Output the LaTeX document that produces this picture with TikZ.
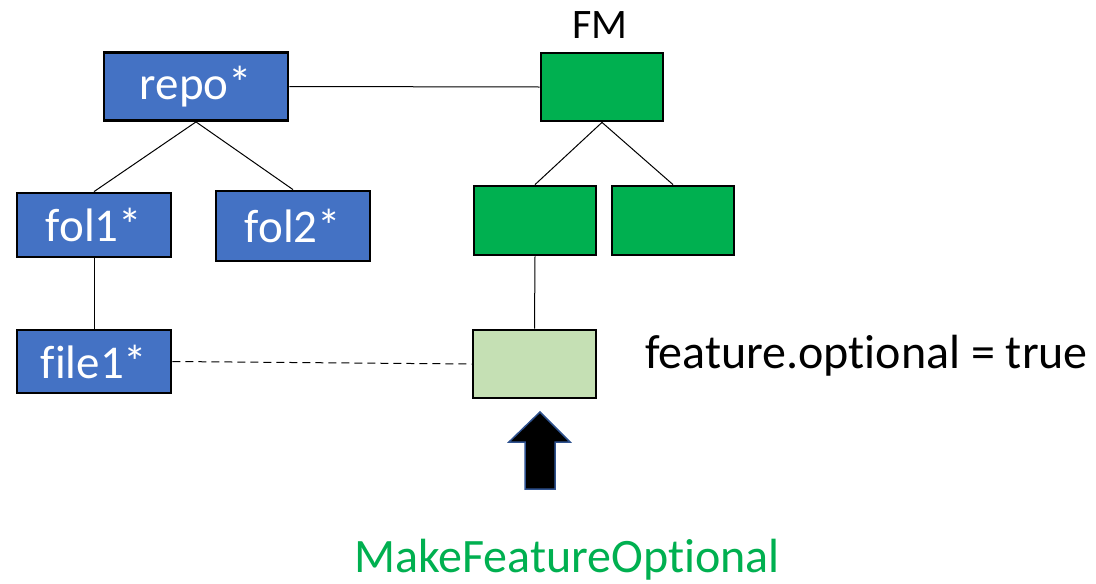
\documentclass[tikz,border=0pt]{standalone}
\usepackage{fontspec}
\setmainfont{Carlito}[Ligatures=NoCommon]
\definecolor{repoblue}{HTML}{4472C4}
\definecolor{fmgreen}{HTML}{00B050}
\definecolor{optgreen}{HTML}{C5E0B4}
\definecolor{arrowedge}{HTML}{2F528F}
\begin{document}
\begin{tikzpicture}[x=1pt,y=-1pt,
  box/.style={draw=black,line width=2.8pt,inner sep=0pt,font=\fontsize{47}{47}\selectfont},
  repobox/.style={box,fill=repoblue,text=white},
  fmbox/.style={box,fill=fmgreen},
  optbox/.style={box,fill=optgreen},
  link/.style={line width=1pt,black}]
\useasboundingbox[fill=white] (0,0) rectangle (1096,584);

% repository tree
\node[repobox,minimum width=184pt,minimum height=68pt] (repo) at (196,86.5) {repo*};
\node[repobox,minimum width=154pt,minimum height=64pt] (fol1) at (94,225) {fol1*};
\node[repobox,minimum width=154pt,minimum height=70pt] (fol2) at (293,226) {fol2*};
\node[repobox,minimum width=154pt,minimum height=63pt] (file1) at (94,361.5) {file1*};

% feature model
\node[fmbox,minimum width=122pt,minimum height=68pt] (fm) at (602,87) {};
\node[font=\fontsize{42}{42}\selectfont,anchor=base,inner sep=0pt] (fmlabel) at (600,38) {FM};
\node[fmbox,minimum width=122pt,minimum height=69pt] (g1) at (535,220.5) {};
\node[fmbox,minimum width=122pt,minimum height=69pt] (g2) at (673,220.5) {};
\node[optbox,minimum width=123pt,minimum height=68pt] (opt) at (534.5,364) {};

% connectors
\draw[link] (repo.east) -- (fm.west);
\draw[link] (repo.south) -- (fol1.north);
\draw[link] (repo.south) -- (fol2.north);
\draw[link] (fol1.south) -- (file1.north);
\draw[link] (fm.south) -- (g1.north);
\draw[link] (fm.south) -- (g2.north);
\draw[link] (g1.south) -- (opt.north);
\draw[link,dashed,dash pattern=on 8pt off 5pt] (file1.east) -- (opt.west);

% operation annotation
\node[font=\fontsize{48}{48}\selectfont,anchor=base west,inner sep=0pt] (flag) at (645,368) {feature.optional = true};
\draw[fill=black,draw=arrowedge,line width=1.5pt]
  (540,412) -- (570,442) -- (555,442) -- (555,489) -- (525,489) -- (525,442) -- (509,442) -- cycle;
\node[font=\fontsize{48}{48}\selectfont,text=fmgreen,anchor=base,inner sep=0pt] (op) at (567,572) {MakeFeatureOptional};
\end{tikzpicture}
\end{document}
